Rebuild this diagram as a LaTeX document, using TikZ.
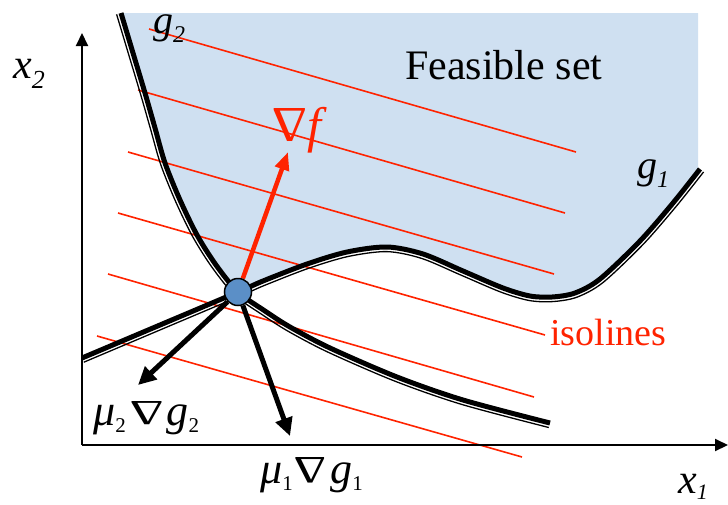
\documentclass[tikz,border=0pt]{standalone}
\usepackage{fontspec}
\setmainfont{Liberation Serif}
\usetikzlibrary{arrows.meta}
\definecolor{feas}{RGB}{207,224,241}
\definecolor{iso}{RGB}{255,35,0}
\definecolor{dotc}{RGB}{91,143,199}
\newcommand{\setfs}[1]{\fontsize{#1}{#1}\selectfont}
\newcommand{\nab}[2]{\scalebox{#1}[#2]{\rotatebox[origin=c]{180}{Δ}}}
\newcommand{\lsub}[1]{\raisebox{-7pt}{\setfs{21}#1}}
\pgfdeclarelayer{background}
\pgfsetlayers{background,main}
\tikzset{
  bnd/.style={line width=5pt},
  bndthin/.style={line width=1.3pt},
  isoline/.style={draw=iso, line width=1.6pt},
  garrow/.style={line width=5pt, -{Triangle[length=18pt,width=17pt]}},
  farrow/.style={draw=iso, line width=4.5pt, -{Triangle[length=18pt,width=14pt]}},
  axis/.style={line width=2pt, -{Triangle[length=13pt,width=12pt]}},
  lbl/.style={inner sep=0pt, anchor=base west},
  pt/.style={circle, draw, line width=1.5pt, fill=dotc, minimum size=27pt, inner sep=0pt},
}
\begin{document}
\begin{tikzpicture}[x=1pt,y=-1pt]
\useasboundingbox (0,0) rectangle (728,504);
% key points
\node[pt] (P) at (238,292) {};
\coordinate (O) at (82,445);
\coordinate (ytip) at (82,33);
\coordinate (xtip) at (728,445);
\coordinate (m2tip) at (138,385);
\coordinate (m1tip) at (290,436);
\coordinate (ftip) at (288,152);
\foreach \i/\sx/\sy/\ex/\ey in {1/149/29/576/152, 2/138/90/565/213, 3/128/152/554/274, 4/118/213/545/335, 5/108/274/534/397, 6/97/336/522/457}{
  \coordinate (is\i) at (\sx,\sy);
  \coordinate (ie\i) at (\ex,\ey);
}
\begin{pgfonlayer}{background}
% feasible set
\fill[feas] plot[smooth] coordinates {(121,13) (133,53) (145,93) (155,128) (165,163) (180,200) (197,235) (216,265) (238,292)}
  -- plot[smooth] coordinates {(238,292) (263,281) (307,264) (347,252) (387,247) (423,254) (463,271) (503,288) (530,296) (552,297) (575,293) (600,279) (640,241) (673,203) (700,169)}
  -- (698,169) -- (698,13) -- cycle;
% isolines
\foreach \i in {1,...,6}{ \draw[isoline] (is\i) -- (ie\i); }
% g2
\draw[bnd] plot[smooth] coordinates {(121,13) (133,53) (145,93) (155,128) (165,163) (180,200) (197,235) (216,265) (238,292) (265,311) (290,327) (330,348) (397,377) (463,400) (550,423)};
\draw[bndthin] plot[smooth] coordinates {(116.6,14.3) (128.6,54.3) (140.6,94.3) (150.6,129.3) (160.7,164.5) (175.8,201.9) (193.0,237.2) (212.3,267.7) (234.9,295.4) (262.4,314.8) (287.7,331.0) (328.1,352.2) (395.3,381.3) (461.7,404.4) (548.8,427.5)};
% g1
\draw[bnd] plot[smooth] coordinates {(82,358) (160,325) (238,292) (263,281) (307,264) (347,252) (387,247) (423,254) (463,271) (503,288) (530,296) (552,297) (575,293) (600,279) (640,241) (673,203) (700,169)};
\draw[bndthin] plot[smooth] coordinates {(83.8,362.2) (161.8,329.2) (239.8,296.2) (264.7,285.3) (308.5,268.3) (348.0,256.5) (386.9,251.6) (421.6,258.4) (461.2,275.2) (501.4,292.3) (529.2,300.5) (552.3,301.6) (576.6,297.3) (602.9,282.6) (643.3,244.2) (676.5,206.0) (703.6,171.9)};
% axes
\draw[axis] (O) -- (ytip);
\draw[axis] (O) -- (xtip);
% gradients
\draw[farrow] (P) -- (ftip);
\draw[garrow] (P) -- (m2tip);
\draw[garrow] (P) -- (m1tip);
\end{pgfonlayer}
% labels
\node[lbl, font=\setfs{42}] (feaslbl) at (405,79) {Feasible set};
\node[lbl, font=\setfs{38}, text=iso] (isolbl) at (550,345) {isolines};
\node[lbl, font=\setfs{50}, text=iso] (gradf) at (272,142) {\nab{1.1}{1}\textit{f}};
\node[lbl, font=\setfs{40}] (g2lbl) at (153,33) {\textit{g}\raisebox{-9pt}{\setfs{24}\textit{2}}};
\node[lbl, font=\setfs{40}] (g1lbl) at (637,178) {\textit{g}\raisebox{-9pt}{\setfs{24}\textit{1}}};
\node[lbl, font=\setfs{42}] (x2lbl) at (13,78) {\textit{x}\raisebox{-10pt}{\setfs{26}\textit{2}}};
\node[lbl, font=\setfs{42}] (x1lbl) at (678,493) {\textit{x}\raisebox{-6pt}{\setfs{22}\textit{1}}};
\node[lbl, font=\setfs{44}] (m2lbl) at (93,425) {\textit{μ}\lsub{2}\hspace{4pt}\nab{1.2}{0.8}\hspace{3pt}\textit{g}\lsub{2}};
\node[lbl, font=\setfs{44}] (m1lbl) at (260,483) {\textit{μ}\lsub{1}\hspace{1pt}\nab{1.15}{0.88}\hspace{4pt}\textit{g}\lsub{1}};
\end{tikzpicture}
\end{document}
